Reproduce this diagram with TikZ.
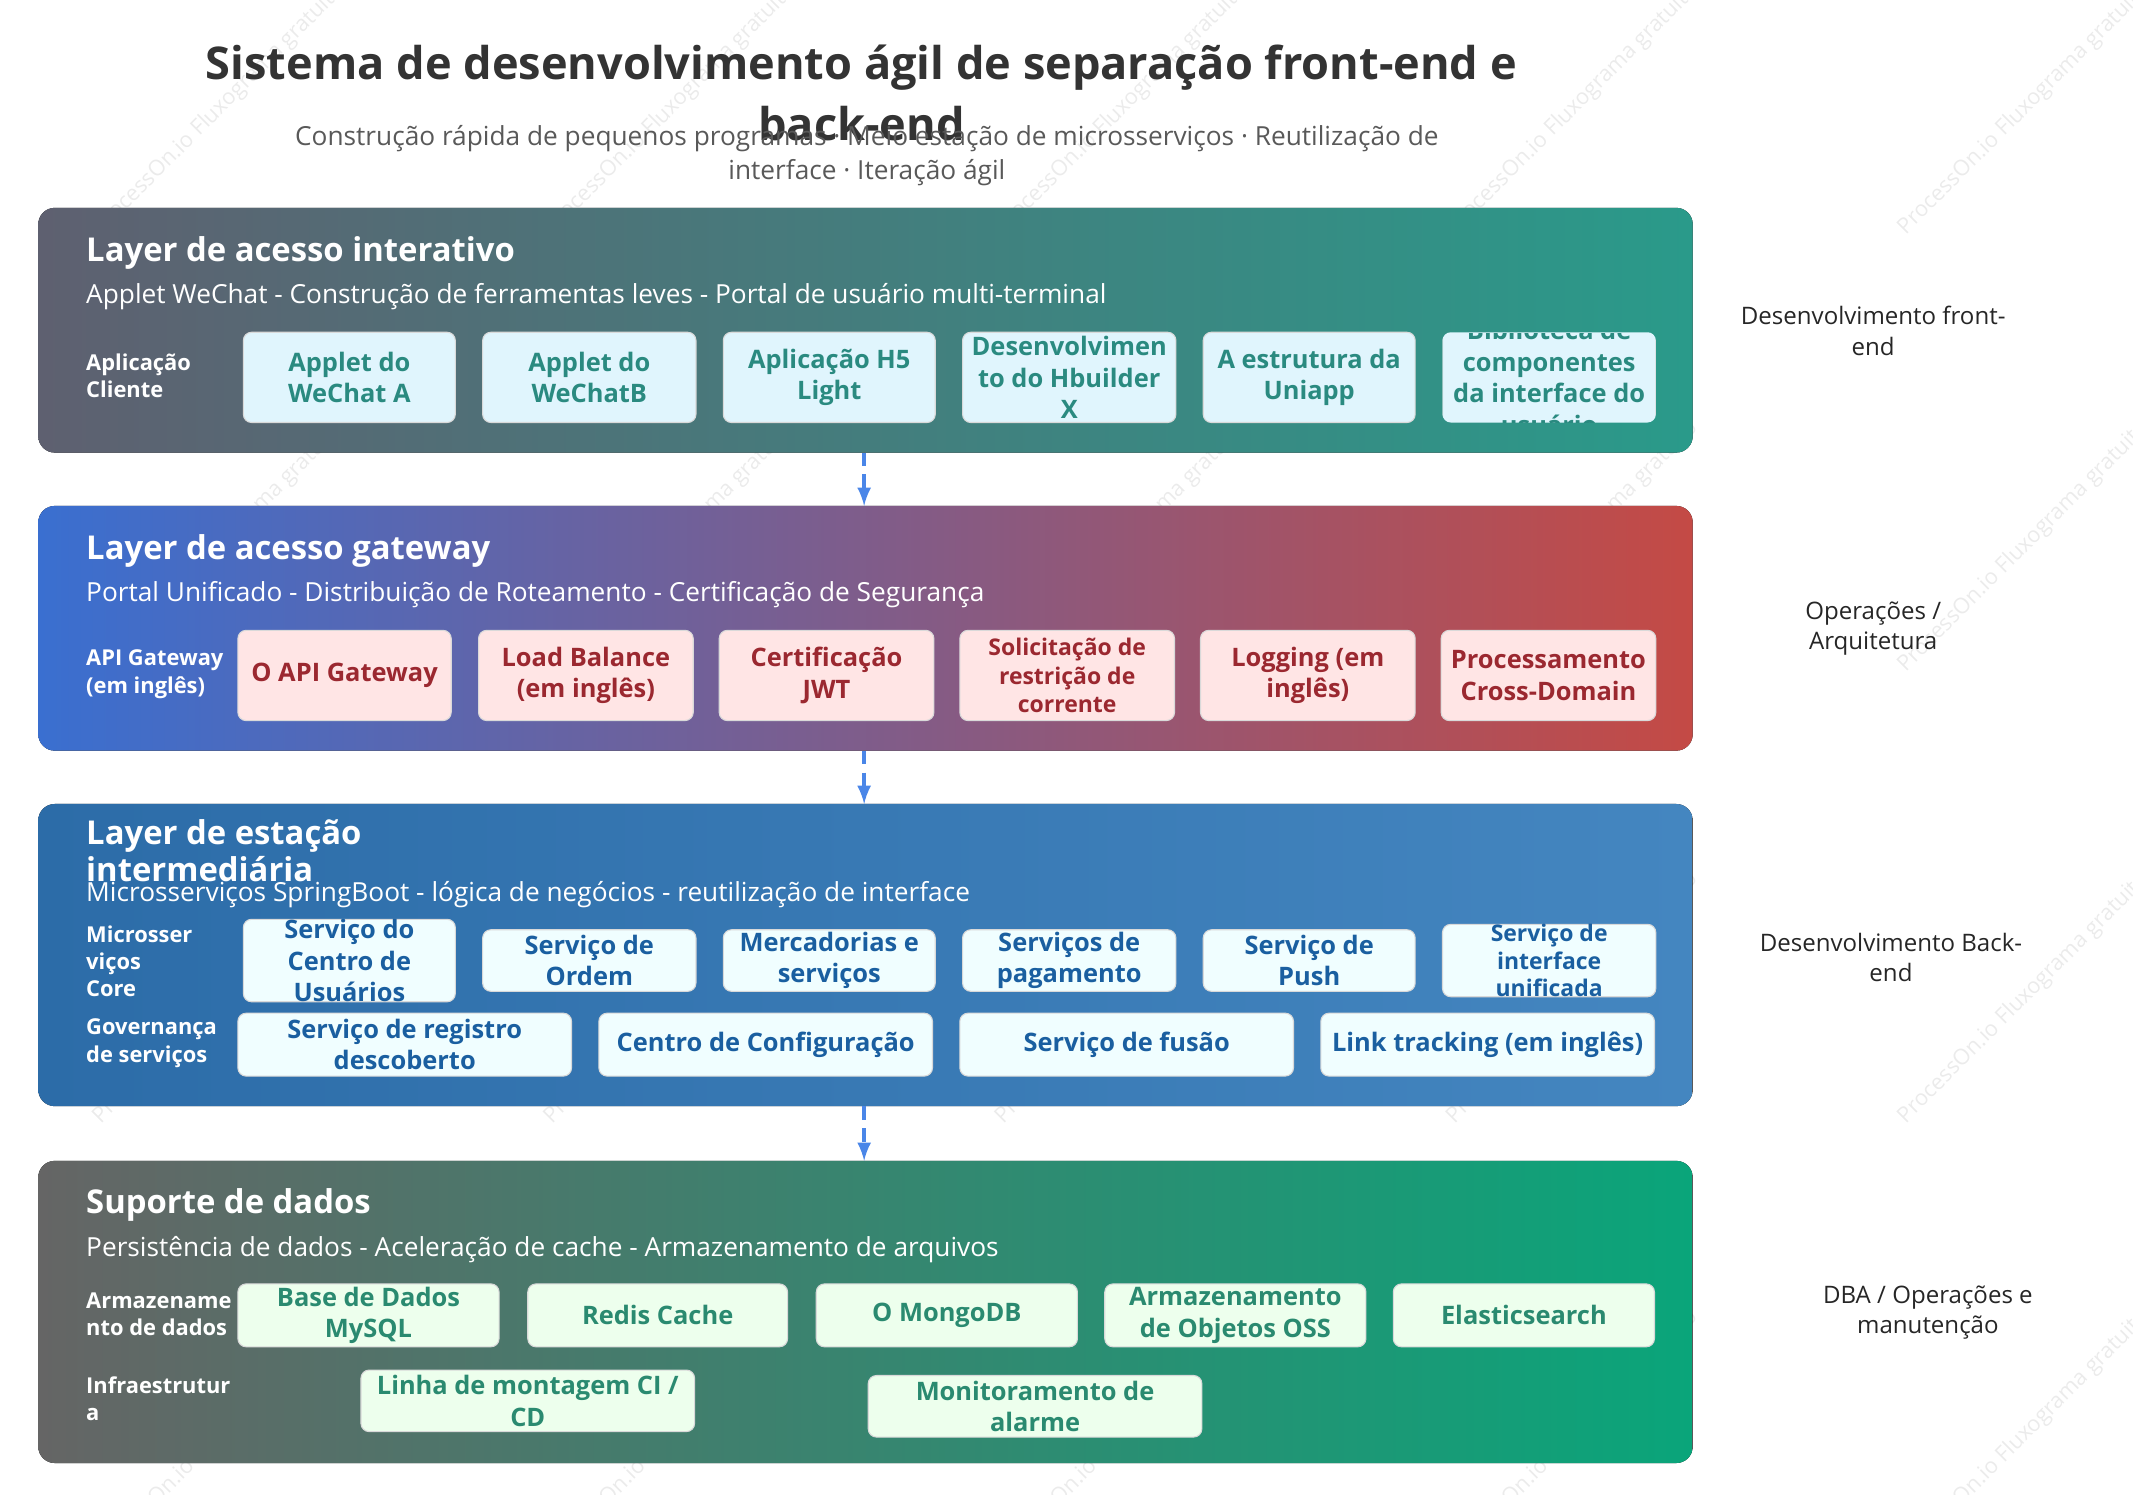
\documentclass[tikz,border=0pt]{standalone}
\usepackage{fontspec}
\setmainfont{Open Sans}
\usetikzlibrary{positioning}

\definecolor{tealtxt}{HTML}{2A8A80}
\definecolor{redtxt}{HTML}{9B2830}
\definecolor{bluetxt}{HTML}{1A5FA0}
\definecolor{greentxt}{HTML}{2A8A70}
\definecolor{arrowblue}{HTML}{4A86E8}
\definecolor{grayL}{HTML}{5E6070}
\definecolor{tealR}{HTML}{2A9A8A}
\definecolor{blueL}{HTML}{3A6FD0}
\definecolor{redR}{HTML}{C44A45}
\definecolor{midL}{HTML}{2C6CA8}
\definecolor{midR}{HTML}{4486C0}
\definecolor{grayD}{HTML}{656565}
\definecolor{greenR}{HTML}{0AA57A}

\tikzset{
  layer/.style={rounded corners=6pt,draw=none},
  ltitle/.style={anchor=west,text=white,font=\fontsize{12}{13.5}\selectfont\bfseries,align=left},
  lsub/.style={anchor=west,text=white,font=\fontsize{9.6}{12}\selectfont},
  rowlbl/.style={anchor=west,text=white,font=\fontsize{8}{10}\selectfont\bfseries,align=left},
  cell/.style={rounded corners=3pt,draw=white!70!gray,line width=0.4pt,align=center,
    font=\fontsize{9.3}{11.5}\selectfont\bfseries,inner sep=0pt},
  side/.style={align=center,font=\fontsize{8.8}{11}\selectfont,text=black!85},
  flow/.style={->,>=latex,arrowblue,line width=1.3pt,dash pattern=on 5pt off 3pt},
  wmark/.style={rotate=45,text=black!8,font=\fontsize{8}{9}\selectfont}
}

% cell box: name, x1, y1, x2, y2, style, text
\newcommand{\cellbox}[7]{%
  \node[cell,#6,minimum width={(#4-#2)*0.5pt},minimum height={(#5-#3)*0.5pt}]
    (#1) at ({(#2+#4)/2},{(#3+#5)/2}) {#7};}

\begin{document}
\begin{tikzpicture}[x=0.5pt,y=-0.5pt]
  \useasboundingbox (0,0) rectangle (1560,1093);

  % watermarks
  \begin{scope}
    \clip (0,0) rectangle (1560,1093);
    \foreach \wx in {160,490,820,1150,1480}
      \foreach \wy in {80,400,730,1050}
        \node[wmark] at (\wx,\wy) {ProcessOn.io Fluxograma gratuito};
  \end{scope}

  % title
  \node[font=\fontsize{16.5}{22}\selectfont\bfseries,text=black!80,align=center] (title) at (630,68)
    {Sistema de desenvolvimento ágil de separação front-end e\\back-end};
  \node[font=\fontsize{9.6}{12.5}\selectfont,text=black!65,align=center] (subtitle) at (634,114)
    {Construção rápida de pequenos programas · Meio estação de microsserviços · Reutilização de\\interface · Iteração ágil};

  % layer 1
  \fill[layer,left color=grayL,right color=tealR] (28,152) rectangle (1238,331);
  \node[ltitle] (l1t) at (56,185) {Layer de acesso interativo};
  \node[lsub] (l1s) at (56,217) {Applet WeChat - Construção de ferramentas leves - Portal de usuário multi-terminal};
  \node[rowlbl] (l1r) at (56,275) {Aplicação\\Cliente};
  \cellbox{a1}{178}{243}{333}{309}{fill=cyan!12,text=tealtxt}{Applet do\\WeChat A}
  \cellbox{a2}{353}{243}{509}{309}{fill=cyan!12,text=tealtxt}{Applet do\\WeChatB}
  \cellbox{a3}{529}{243}{684}{309}{fill=cyan!12,text=tealtxt}{Aplicação H5\\Light}
  \cellbox{a4}{704}{243}{860}{309}{fill=cyan!12,text=tealtxt}{Desenvolvimen\\to do Hbuilder\\X}
  \cellbox{a5}{880}{243}{1035}{309}{fill=cyan!12,text=tealtxt}{A estrutura da\\Uniapp}
  \begin{scope}
    \clip[rounded corners=3pt] (1055,243) rectangle (1211,309);
    \cellbox{a6}{1055}{243}{1211}{309}{fill=cyan!12,text=tealtxt}{Biblioteca de\\componentes\\da interface do\\usuário}
  \end{scope}

  % layer 2
  \fill[layer,left color=blueL,right color=redR] (28,370) rectangle (1238,549);
  \node[ltitle] (l2t) at (56,403) {Layer de acesso gateway};
  \node[lsub] (l2s) at (56,435) {Portal Unificado - Distribuição de Roteamento - Certificação de Segurança};
  \node[rowlbl] (l2r) at (56,493) {API Gateway\\(em inglês)};
  \cellbox{b1}{174}{461}{330}{527}{fill=red!10,text=redtxt}{O API Gateway}
  \cellbox{b2}{350}{461}{507}{527}{fill=red!10,text=redtxt}{Load Balance\\(em inglês)}
  \cellbox{b3}{526}{461}{683}{527}{fill=red!10,text=redtxt}{Certificação\\JWT}
  \cellbox{b4}{702}{461}{859}{527}{fill=red!10,text=redtxt,font=\fontsize{8.4}{10.5}\selectfont\bfseries}{Solicitação de\\restrição de\\corrente}
  \cellbox{b5}{878}{461}{1035}{527}{fill=red!10,text=redtxt}{Logging (em\\inglês)}
  \cellbox{b6}{1054}{461}{1211}{527}{fill=red!10,text=redtxt}{Processamento\\Cross-Domain}

  % layer 3
  \fill[layer,left color=midL,right color=midR] (28,588) rectangle (1238,809);
  \node[ltitle] (l3t) at (56,622) {Layer de estação\\intermediária};
  \node[lsub] (l3s) at (56,654) {Microsserviços SpringBoot - lógica de negócios - reutilização de interface};
  \node[rowlbl] (l3r1) at (56,703) {Microsser\\viços\\Core};
  \node[rowlbl] (l3r2) at (56,763) {Governança\\de serviços};
  \cellbox{c1}{178}{680}{333}{725}{fill=blue!8!cyan!6,text=bluetxt}{Serviço do\\Centro de\\Usuários}
  \cellbox{c2}{353}{680}{509}{725}{fill=blue!8!cyan!6,text=bluetxt}{Serviço de\\Ordem}
  \cellbox{c3}{529}{680}{684}{725}{fill=blue!8!cyan!6,text=bluetxt}{Mercadorias e\\serviços}
  \cellbox{c4}{704}{680}{860}{725}{fill=blue!8!cyan!6,text=bluetxt}{Serviços de\\pagamento}
  \cellbox{c5}{880}{680}{1035}{725}{fill=blue!8!cyan!6,text=bluetxt}{Serviço de\\Push}
  \cellbox{c6}{1055}{680}{1211}{725}{fill=blue!8!cyan!6,text=bluetxt,font=\fontsize{8.4}{10}\selectfont\bfseries}{Serviço de\\interface\\unificada}
  \cellbox{d1}{174}{741}{418}{787}{fill=blue!8!cyan!6,text=bluetxt}{Serviço de registro\\descoberto}
  \cellbox{d2}{438}{741}{682}{787}{fill=blue!8!cyan!6,text=bluetxt}{Centro de Configuração}
  \cellbox{d3}{702}{741}{946}{787}{fill=blue!8!cyan!6,text=bluetxt}{Serviço de fusão}
  \cellbox{d4}{966}{741}{1210}{787}{fill=blue!8!cyan!6,text=bluetxt}{Link tracking (em inglês)}

  % layer 4
  \fill[layer,left color=grayD,right color=greenR] (28,849) rectangle (1238,1070);
  \node[ltitle] (l4t) at (56,881) {Suporte de dados};
  \node[lsub] (l4s) at (56,914) {Persistência de dados - Aceleração de cache - Armazenamento de arquivos};
  \node[rowlbl] (l4r1) at (56,961) {Armazename\\nto de dados};
  \node[rowlbl] (l4r2) at (56,1023) {Infraestrutur\\a};
  \cellbox{e1}{174}{939}{365}{985}{fill=green!7,text=greentxt}{Base de Dados\\MySQL}
  \cellbox{e2}{386}{939}{576}{985}{fill=green!7,text=greentxt}{Redis Cache}
  \cellbox{e3}{597}{939}{788}{985}{fill=green!7,text=greentxt}{O MongoDB}
  \cellbox{e4}{808}{939}{999}{985}{fill=green!7,text=greentxt}{Armazenamento\\de Objetos OSS}
  \cellbox{e5}{1019}{939}{1210}{985}{fill=green!7,text=greentxt}{Elasticsearch}
  \cellbox{f1}{264}{1002}{508}{1047}{fill=green!7,text=greentxt}{Linha de montagem CI /\\CD}
  \cellbox{f2}{635}{1006}{879}{1051}{fill=green!7,text=greentxt}{Monitoramento de\\alarme}

  % flow between layers
  \coordinate (s1) at (632,331); \coordinate (t1) at (632,370);
  \coordinate (s2) at (632,549); \coordinate (t2) at (632,588);
  \coordinate (s3) at (632,809); \coordinate (t3) at (632,849);
  \draw[flow] (s1) -- (t1);
  \draw[flow] (s2) -- (t2);
  \draw[flow] (s3) -- (t3);

  % side labels
  \node[side] (r1) at (1370,242) {Desenvolvimento front-\\end};
  \node[side] (r2) at (1370,460) {Operações /\\Arquitetura};
  \node[side] (r3) at (1383,700) {Desenvolvimento Back-\\end};
  \node[side] (r4) at (1410,960) {DBA / Operações e\\manutenção};
\end{tikzpicture}
\end{document}
